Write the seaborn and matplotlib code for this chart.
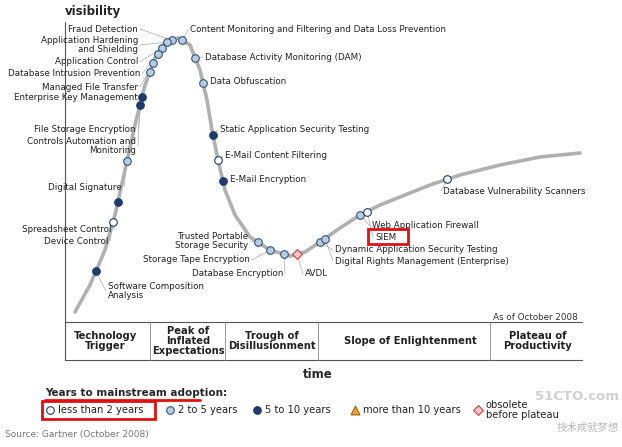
import numpy as np
import seaborn as sns
import matplotlib.pyplot as plt
from matplotlib.patches import Rectangle

sns.set_theme(style="white")

# hype curve (pixel-like coordinates, y downwards)
curve_x = [75, 90, 105, 115, 125, 135, 145, 155, 165, 178, 190, 200, 207, 212, 218, 225, 235, 250,
           270, 290, 305, 320, 340, 360, 380, 400, 430, 460, 500, 540, 580]
curve_y = [312, 285, 250, 215, 170, 125, 85, 58, 43, 38, 45, 70, 100, 130, 160, 190, 215, 237,
           250, 256, 252, 242, 228, 215, 205, 197, 185, 175, 165, 157, 153]

# technologies: x position on the curve, adoption class, label, label anchor, alignment
tech_x = [172, 167, 162, 158, 153, 150, 142, 140, 127, 118, 113, 96,
          182, 195, 203, 213, 218, 223, 258, 270, 284, 297, 320, 325, 360, 367, 447]
tech_kind = ["m", "m", "m", "m", "m", "m", "l", "l", "m", "l", "s", "l",
             "m", "m", "m", "l", "s", "l", "m", "m", "m", "o", "m", "m", "m", "s", "s"]
tech_label = ["Fraud Detection", "Application Hardening\nand Shielding", "Application Control",
              "Database Intrusion Prevention", "Managed File Transfer", "Enterprise Key Management",
              "File Storage Encryption", "Controls Automation and\nMonitoring", "Digital Signature",
              "Spreadsheet Control", "Device Control", "Software Composition\nAnalysis",
              "Content Monitoring and Filtering and Data Loss Prevention",
              "Database Activity Monitoring (DAM)", "Data Obfuscation",
              "Static Application Security Testing", "E-Mail Content Filtering", "E-Mail Encryption",
              "Trusted Portable\nStorage Security", "Storage Tape Encryption", "Database Encryption",
              "AVDL", "Dynamic Application Security Testing", "Digital Rights Management (Enterprise)",
              "Web Application Firewall", "SIEM", "Database Vulnerability Scanners"]
label_x = [138, 138, 138, 140, 138, 138, 136, 136, 122, 112, 108, 108,
           190, 205, 210, 220, 225, 230, 248, 250, 283, 305, 335, 335, 372, 375, 443]
label_y = [29, 45, 62, 74, 87, 98, 130, 146, 187, 229, 241, 291,
           30, 57, 82, 130, 156, 179, 241, 260, 274, 274, 250, 261, 226, 237, 191]
label_ha = ["right"] * 11 + ["left"] + ["left"] * 6 + ["right"] * 3 + ["left"] * 6

phases = ["Technology\nTrigger", "Peak of\nInflated\nExpectations", "Trough of\nDisillusionment",
          "Slope of Enlightenment", "Plateau of\nProductivity"]
phase_x = [105, 188, 272, 410, 538]
phase_bounds = [150, 225, 318, 490]

legend_labels = ["less than 2 years", "2 to 5 years", "5 to 10 years", "more than 10 years",
                 "obsolete\nbefore plateau"]

styles = {
    "s": dict(marker="o", color="white", ec="#1f3a6b", s=30),
    "m": dict(marker="o", color="#b9cde2", ec="#35507a", s=30),
    "l": dict(marker="o", color="#1f3a6b", ec="#1f3a6b", s=30),
    "h": dict(marker="^", color="#f0a030", ec="#a06010", s=40),
    "o": dict(marker="D", color="#f4c6c6", ec="#d04040", s=25),
}

fig = plt.figure(figsize=(6.22, 4.47), dpi=100)
ax = fig.add_axes([0, 0, 1, 1])
ax.set_xlim(0, 622)
ax.set_ylim(447, 0)
ax.axis("off")

sns.lineplot(x=curve_x, y=curve_y, ax=ax, color="#b0b0b0", lw=2.6, sort=False)

tech_y = np.interp(tech_x, curve_x, curve_y)
for x, y, k, lab, lx, ly, ha in zip(tech_x, tech_y, tech_kind, tech_label, label_x, label_y, label_ha):
    st = styles[k]
    ax.scatter([x], [y], marker=st["marker"], c=st["color"], edgecolors=st["ec"], s=st["s"],
               linewidths=0.8, zorder=5)
    ax.text(lx, ly, lab, ha=ha, va="center", fontsize=6.3, color="#222222", linespacing=0.95)
    ax.plot([x, lx + (2 if ha == "right" else -2)], [y, ly], color="#999999", lw=0.4, zorder=1)

# SIEM highlight
ax.add_patch(Rectangle((368, 229), 40, 15, fill=False, ec="#e01010", lw=2, zorder=6))

# axes and phase band
ax.plot([65, 65], [22, 360], color="#555555", lw=0.8)
ax.plot([65, 582], [322, 322], color="#555555", lw=0.8)
ax.plot([65, 582], [360, 360], color="#555555", lw=0.8)
for b in phase_bounds:
    ax.plot([b, b], [322, 360], color="#888888", lw=0.6)
for px, ph in zip(phase_x, phases):
    ax.text(px, 341, ph, ha="center", va="center", fontsize=7.2, fontweight="bold",
            color="#222222", linespacing=0.95)

ax.text(65, 12, "visibility", ha="left", va="center", fontsize=8.5, fontweight="bold")
ax.text(318, 375, "time", ha="center", va="center", fontsize=8.5, fontweight="bold")
ax.text(578, 317, "As of October 2008", ha="right", va="center", fontsize=6.3, color="#333333")

# legend
ax.text(45, 393, "Years to mainstream adoption:", ha="left", va="center", fontsize=7.5,
        fontweight="bold")
ax.plot([45, 200], [400, 400], color="#e01010", lw=2)
leg_x = [50, 170, 257, 355, 478]
for lx, k, lab in zip(leg_x, ["s", "m", "l", "h", "o"], legend_labels):
    st = styles[k]
    ax.scatter([lx], [410], marker=st["marker"], c=st["color"], edgecolors=st["ec"], s=st["s"],
               linewidths=0.8)
    ax.text(lx + 8, 410, lab, ha="left", va="center", fontsize=7.2, color="#222222",
            linespacing=0.95)
ax.add_patch(Rectangle((42, 401), 113, 18, fill=False, ec="#e01010", lw=2))
ax.text(619, 396, "51CTO.com", ha="right", va="center", fontsize=9.5, fontweight="bold",
        color="#d0d0d0")
ax.text(619, 428, "技术成就梦想", ha="right", va="center", fontsize=7.5, color="#b8b8b8",
        family="Noto Sans CJK SC")

ax.text(5, 434, "Source: Gartner (October 2008)", ha="left", va="center", fontsize=6.5,
        color="#777777")

fig.savefig("out.png", dpi=100)
